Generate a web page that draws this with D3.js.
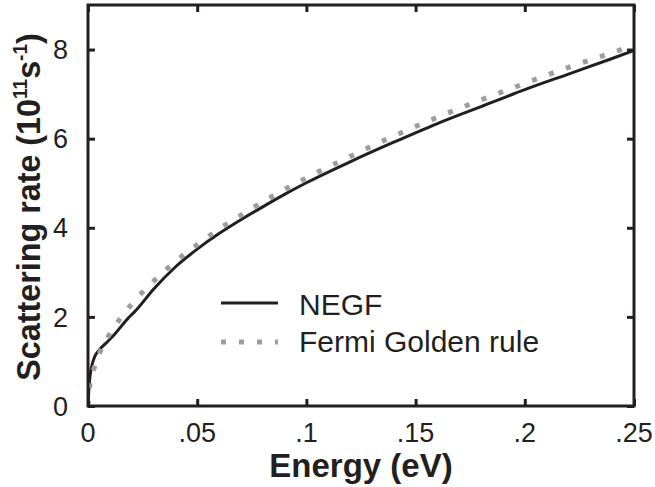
<!DOCTYPE html>
<html>
<head>
<meta charset="utf-8">
<script src="https://cdn.jsdelivr.net/npm/d3@7"></script>
<style>
  body { margin: 0; background: #fff; }
  svg text { font-family: "Liberation Sans", Arial, sans-serif; fill: #231f20; }
</style>
</head>
<body>
<svg id="chart" width="655" height="487"></svg>
<script>
// energy (eV) and scattering rate (10^11 s^-1)
var negfEnergy = [0, .0005, .001, .002, .003, .005, .008, .012, .018, .022, .03, .04, .05, .06, .07, .08, .09, .1, .12, .14, .16, .18, .2, .22, .24, .25];
var negfRate   = [0, .45, .7, .95, 1.1, 1.25, 1.4, 1.6, 1.95, 2.15, 2.62, 3.12, 3.52, 3.87, 4.18, 4.47, 4.75, 5.01, 5.48, 5.92, 6.34, 6.72, 7.1, 7.45, 7.8, 7.98];
var fgrEnergy  = [0, .001, .003, .006, .01, .015, .02, .03, .04, .05, .06, .07, .08, .09, .1, .12, .14, .16, .18, .2, .22, .24, .25];
var fgrRate    = [0, .52, .88, 1.27, 1.62, 1.98, 2.29, 2.8, 3.24, 3.62, 3.97, 4.28, 4.58, 4.86, 5.12, 5.6, 6.06, 6.48, 6.87, 7.24, 7.6, 7.93, 8.1];
var xTicks = [0, .05, .1, .15, .2, .25];
var xTickLabels = ["0", ".05", ".1", ".15", ".2", ".25"];
var yTicks = [0, 2, 4, 6, 8];
var legendNames = ["NEGF", "Fermi Golden rule"];

var ink = "#231f20";
var svg = d3.select("#chart"),
    margin = {left: 88, top: 5, right: 21, bottom: 81},
    width = +svg.attr("width") - margin.left - margin.right,
    height = +svg.attr("height") - margin.top - margin.bottom,
    g = svg.append("g").attr("transform", "translate(" + margin.left + "," + margin.top + ")");

var x = d3.scaleLinear().domain([0, .25]).range([0, width]);
var y = d3.scaleLinear().domain([0, 9]).range([height, 0]);

svg.append("defs").append("clipPath").attr("id", "plot")
    .append("rect").attr("width", width).attr("height", height);

var line = d3.line()
    .x(function(d) { return x(d[0]); })
    .y(function(d) { return y(d[1]); })
    .curve(d3.curveMonotoneX);

var negf = negfEnergy.map(function(e, i) { return [e, negfRate[i]]; });
var fgr = fgrEnergy.map(function(e, i) { return [e, fgrRate[i]]; });

var curves = g.append("g").attr("clip-path", "url(#plot)");
curves.append("path").datum(negf)
    .attr("d", line)
    .attr("fill", "none").attr("stroke", ink).attr("stroke-width", 3);
curves.append("path").datum(fgr)
    .attr("d", line)
    .attr("fill", "none").attr("stroke", "#9d9d9d").attr("stroke-width", 5)
    .attr("stroke-dasharray", "5,13");

// axes, ticks pointing inward on all four sides
function noText(a) { return a.tickSizeOuter(0).tickFormat(""); }
var axes = [
  [d3.axisBottom(x).tickValues(xTicks).tickSizeInner(-7), "translate(0," + height + ")"],
  [d3.axisTop(x).tickValues(xTicks).tickSizeInner(-7), "translate(0,0)"],
  [d3.axisLeft(y).tickValues(yTicks).tickSizeInner(-7), "translate(0,0)"],
  [d3.axisRight(y).tickValues(yTicks).tickSizeInner(-7), "translate(" + width + ",0)"]
];
axes.forEach(function(a) {
  var ax = g.append("g").attr("transform", a[1]).call(noText(a[0]));
  ax.select(".domain").remove();
  ax.selectAll("line").attr("stroke", ink).attr("stroke-width", 3);
});

g.append("rect")
    .attr("width", width).attr("height", height)
    .attr("fill", "none").attr("stroke", ink).attr("stroke-width", 3);

// tick labels
g.selectAll(".xlab").data(xTicks).enter().append("text")
    .attr("x", function(d) { return x(d); })
    .attr("y", height + 36)
    .attr("text-anchor", "middle")
    .style("font-size", "27px")
    .text(function(d, i) { return xTickLabels[i]; });

g.selectAll(".ylab").data(yTicks).enter().append("text")
    .attr("x", -20)
    .attr("y", function(d) { return y(d); })
    .attr("dy", "0.36em")
    .attr("text-anchor", "end")
    .style("font-size", "27px")
    .text(function(d) { return d; });

// axis titles
svg.append("text")
    .attr("x", margin.left + width / 2)
    .attr("y", 477)
    .attr("text-anchor", "middle")
    .style("font-size", "33px").style("font-weight", "bold")
    .text("Energy (eV)");

var yt = svg.append("text")
    .attr("transform", "translate(40,207) rotate(-90) scale(0.95,1)")
    .attr("text-anchor", "middle")
    .style("font-size", "34px").style("font-weight", "bold");
yt.append("tspan").text("Scattering rate (10");
yt.append("tspan").attr("dy", -13).style("font-size", "20px").text("11");
yt.append("tspan").attr("dy", 13).text("s");
yt.append("tspan").attr("dy", -13).style("font-size", "20px").text("-1");
yt.append("tspan").attr("dy", 13).text(")");

// legend
var legend = svg.append("g");
legend.append("line")
    .attr("x1", 221).attr("x2", 278).attr("y1", 303).attr("y2", 303)
    .attr("stroke", ink).attr("stroke-width", 3);
legend.append("line")
    .attr("x1", 221).attr("x2", 278).attr("y1", 342).attr("y2", 342)
    .attr("stroke", "#9d9d9d").attr("stroke-width", 5)
    .attr("stroke-dasharray", "5,13");
legend.selectAll(".lt").data(legendNames).enter().append("text")
    .attr("x", 299)
    .attr("y", function(d, i) { return 315 + i * 37; })
    .style("font-size", "30px")
    .text(function(d) { return d; });
</script>
</body>
</html>
